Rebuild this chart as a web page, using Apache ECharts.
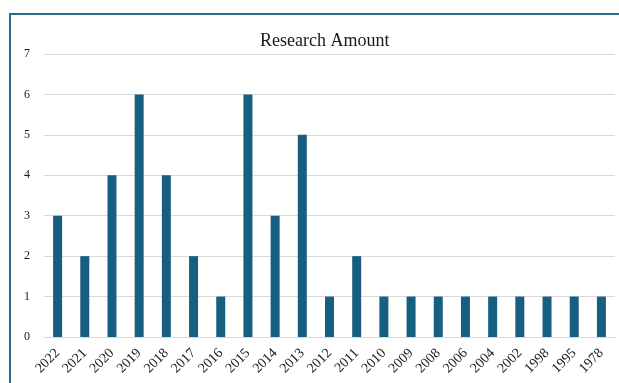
<!DOCTYPE html>
<html>
<head>
<meta charset="utf-8">
<script src="https://cdn.jsdelivr.net/npm/echarts@6/dist/echarts.min.js"></script>
<style>
  html, body { margin: 0; padding: 0; background: #fff; }
  #wrap { position: relative; width: 619px; height: 383px; overflow: hidden; }
  #frame { position: absolute; left: 9px; top: 13px; width: 640px; height: 400px;
           border-left: 2px solid #2d6d8c; border-top: 2px solid #2d6d8c; box-sizing: border-box; }
  #chart { position: absolute; left: 0; top: 0; width: 619px; height: 383px; }
</style>
</head>
<body>
<div id="wrap">
  <div id="frame"></div>
  <div id="chart"></div>
</div>
<script>
// Publication years and number of studies per year
const years = ['2022','2021','2020','2019','2018','2017','2016','2015','2014','2013','2012',
               '2011','2010','2009','2008','2006','2004','2002','1998','1995','1978'];
const amounts = [3, 2, 4, 6, 4, 2, 1, 6, 3, 5, 1, 2, 1, 1, 1, 1, 1, 1, 1, 1, 1];
const yTicks = [0, 1, 2, 3, 4, 5, 6, 7];

const serif = '"Liberation Serif", "Times New Roman", serif';
const chart = echarts.init(document.getElementById('chart'), null, { renderer: 'canvas' });
chart.setOption({
  animation: false,
  title: {
    text: 'Research Amount',
    left: 255,
    top: 27,
    textStyle: { fontFamily: serif, fontSize: 18, fontWeight: 'normal', color: '#1a1a1a' }
  },
  grid: { left: 44, right: 4, top: 54, bottom: 46, containLabel: false },
  xAxis: {
    type: 'category',
    data: years,
    axisLine: { show: true, lineStyle: { color: '#d9d9d9', width: 1 } },
    axisTick: { show: false },
    axisLabel: {
      interval: 0, rotate: 45, margin: 14,
      fontFamily: serif, fontSize: 14, color: '#1a1a1a'
    }
  },
  yAxis: {
    type: 'value',
    min: yTicks[0],
    max: yTicks[yTicks.length - 1],
    interval: 1,
    axisLine: { show: false },
    axisTick: { show: false },
    axisLabel: { margin: 14, fontFamily: serif, fontSize: 12, color: '#1a1a1a' },
    splitLine: { lineStyle: { color: '#d9d9d9', width: 1 } }
  },
  series: [{
    type: 'bar',
    data: amounts,
    barWidth: 9,
    itemStyle: { color: '#175f80' }
  }]
});
</script>
</body>
</html>
